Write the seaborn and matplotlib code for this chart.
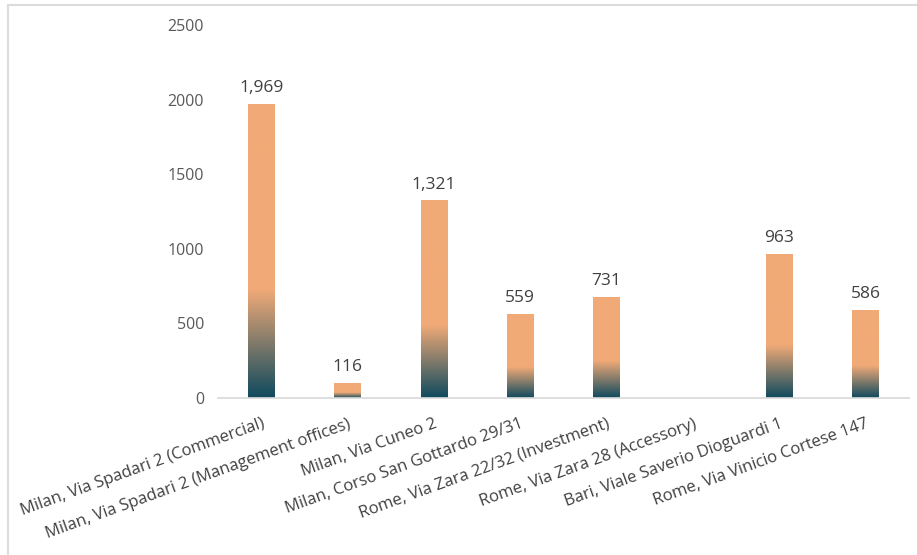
import matplotlib
matplotlib.use("Agg")
import matplotlib.pyplot as plt
import seaborn as sns
import numpy as np
import pandas as pd
from matplotlib.colors import LinearSegmentedColormap
from matplotlib.patches import Rectangle

# data
properties = [
    "Milan, Via Spadari 2 (Commercial)",
    "Milan, Via Spadari 2 (Management offices)",
    "Milan, Via Cuneo 2",
    "Milan, Corso San Gottardo 29/31",
    "Rome, Via Zara 22/32 (Investment)",
    "Rome, Via Zara 28 (Accessory)",
    "Bari, Viale Saverio Dioguardi 1",
    "Rome, Via Vinicio Cortese 147",
]
bar_heights = [1969, 95, 1321, 559, 675, 0, 963, 586]
value_labels = ["1,969", "116", "1,321", "559", "731", "", "963", "586"]
y_ticks = [0, 500, 1000, 1500, 2000, 2500]

dark = "#0f4a5e"
orange = "#f1aa77"

sns.set_theme(style="white")
plt.rcParams["font.family"] = ["Open Sans", "DejaVu Sans"]

fig = plt.figure(figsize=(9.17, 5.55), dpi=100)
ax = fig.add_axes([0.2377, 0.2829, 0.7536, 0.6721])

df = pd.DataFrame({"property": properties, "value": bar_heights})
sns.barplot(data=df, x="property", y="value", width=0.31, color=orange,
            saturation=1, ax=ax)

# gradient fill: dark teal at the bottom, orange from ~37% of bar height
cmap = LinearSegmentedColormap.from_list(
    "bar_grad", [(0, dark), (0.37, orange), (1, orange)])
grad = np.linspace(0, 1, 256).reshape(-1, 1)
for patch in ax.patches:
    x, w, h = patch.get_x(), patch.get_width(), patch.get_height()
    if h <= 0:
        continue
    ax.imshow(grad, extent=[x, x + w, 0, h], origin="lower", aspect="auto",
              cmap=cmap, vmin=0, vmax=1, zorder=patch.get_zorder() + 0.1)

for i, (h, lab) in enumerate(zip(bar_heights, value_labels)):
    if lab:
        ax.annotate(lab, (i, h), xytext=(0, 6), textcoords="offset points",
                    ha="center", va="bottom", fontsize=12.5, color="#404040")

ax.set_xlim(-0.5, len(properties) - 0.5)
ax.set_ylim(0, 2500)
ax.set_yticks(y_ticks)
ax.set_xlabel("")
ax.set_ylabel("")
ax.tick_params(axis="y", length=0, pad=10, labelsize=11.5, labelcolor="#595959")
ax.tick_params(axis="x", length=0, pad=13, labelsize=12, labelcolor="#404040")
plt.setp(ax.get_xticklabels(), rotation=20, ha="right", va="top",
         rotation_mode="anchor")

for side in ["left", "top", "right"]:
    ax.spines[side].set_visible(False)
ax.spines["bottom"].set_color("#d9d9d9")

# light frame around the chart area
fig.add_artist(Rectangle((8 / 917, -0.1), 1.2, 1 - 5 / 555 + 0.1,
                         transform=fig.transFigure, fill=False,
                         edgecolor="#dcdcdc", lw=1.5))

fig.savefig("out.png", dpi=100)
